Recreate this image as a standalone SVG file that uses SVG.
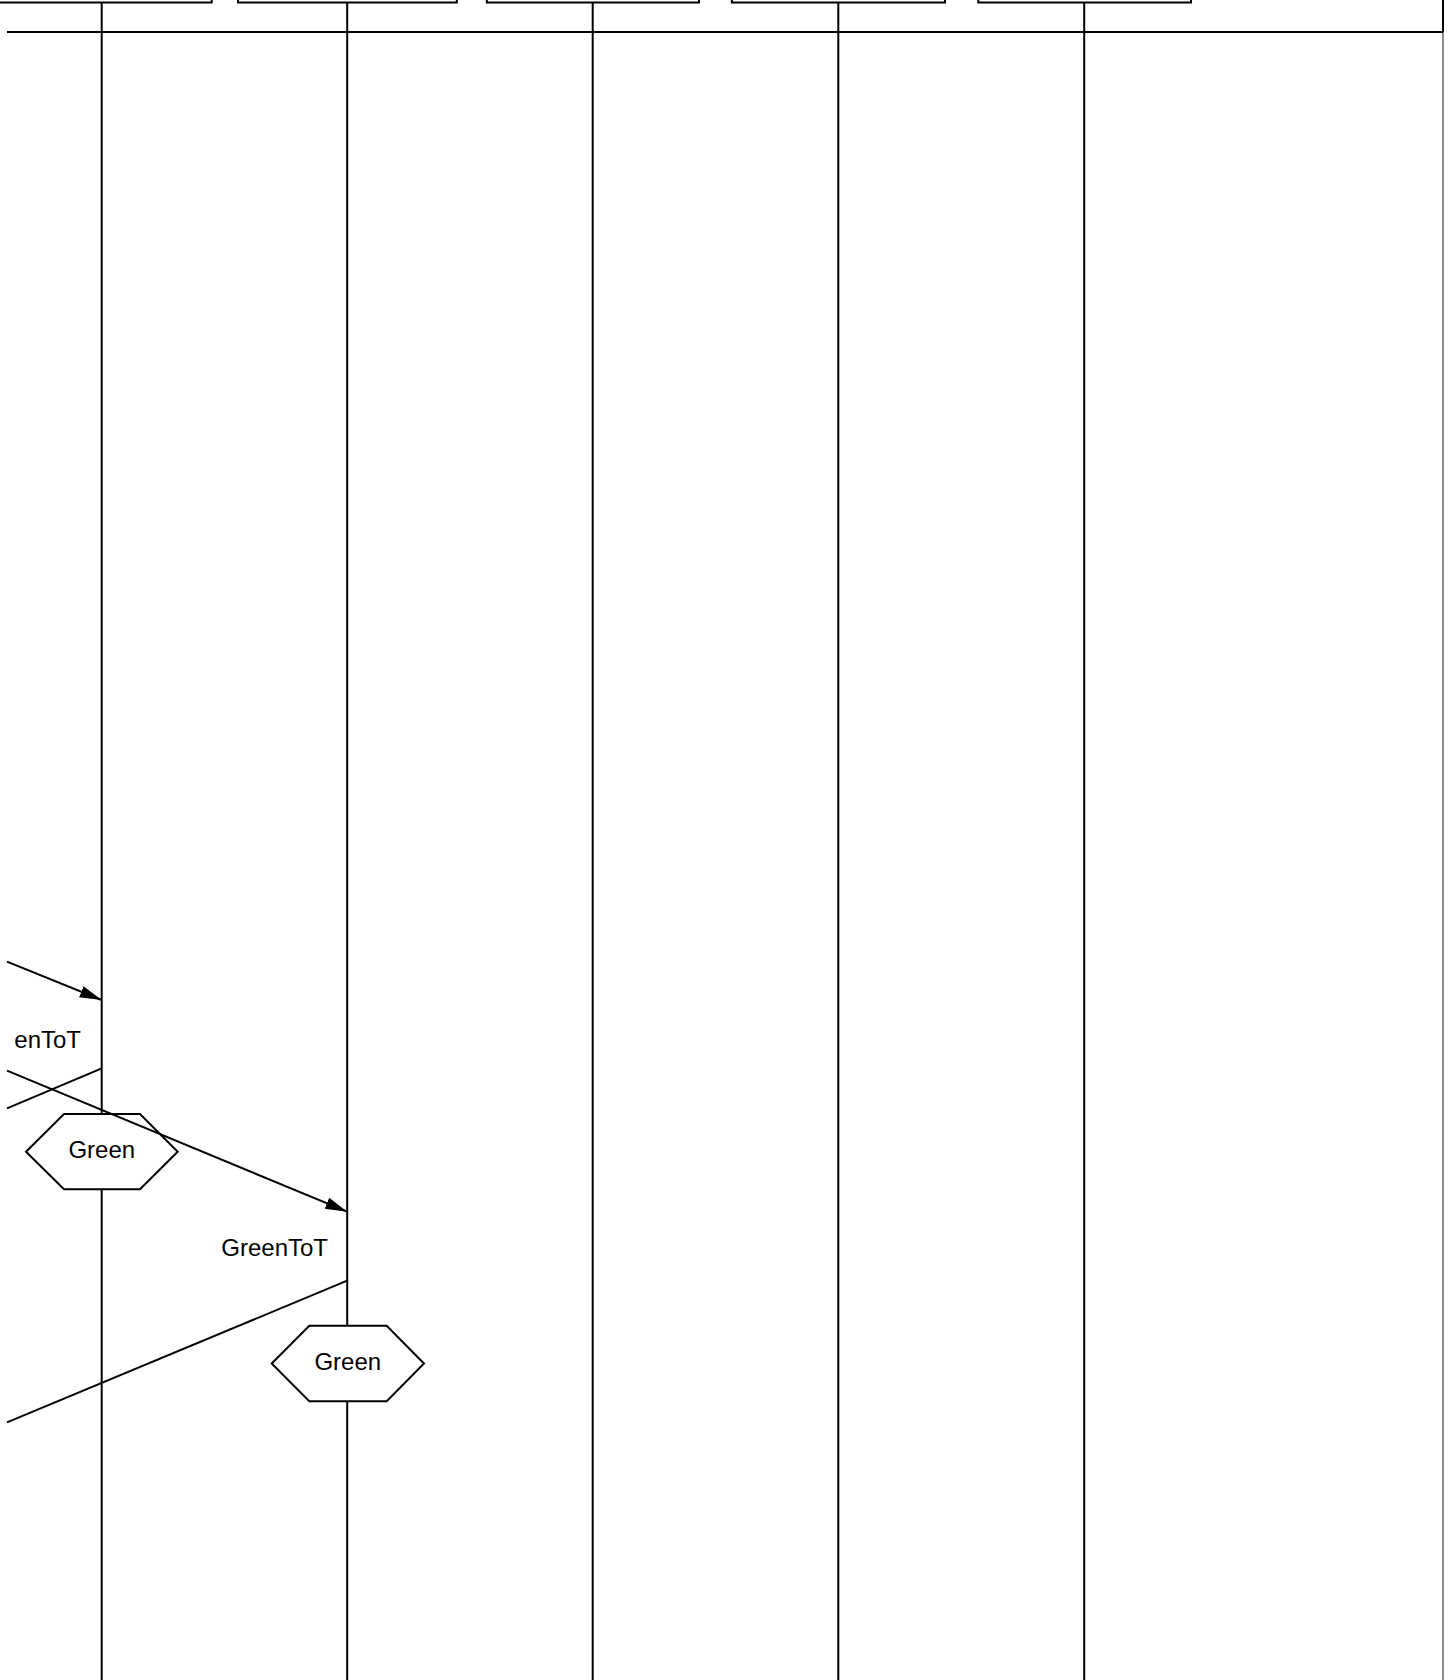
<svg xmlns="http://www.w3.org/2000/svg" width="1450" height="1680" viewBox="0 0 1450 1680">
<style>
.ln{stroke:#000;stroke-width:2;fill:none}
.box{stroke:#000;stroke-width:2;fill:#fff}
.hex{stroke:#000;stroke-width:2;fill:#fff}
.t{font-family:"Liberation Sans",Arial,sans-serif;font-size:24px;fill:#000}
</style>
<defs>
<marker id="ah" markerUnits="userSpaceOnUse" markerWidth="24" markerHeight="14" refX="22" refY="6" orient="auto">
<path d="M0,0 L22,6 L0,12 z" fill="#000"/>
</marker>
</defs>
<rect width="1450" height="1680" fill="#fff"/>
<g id="frame">
<line x1="1443" y1="-5" x2="1443" y2="32" class="ln"/>
<line x1="1443" y1="32" x2="1443" y2="1680" stroke="#666" stroke-width="1.5"/>
<line x1="7" y1="32" x2="1443" y2="32" class="ln"/>
</g>
<g id="lifelines">
<line x1="101.7" y1="0" x2="101.7" y2="1680" class="ln"/>
<line x1="347.2" y1="0" x2="347.2" y2="1680" class="ln"/>
<line x1="592.7" y1="0" x2="592.7" y2="1680" class="ln"/>
<line x1="838.3" y1="0" x2="838.3" y2="1680" class="ln"/>
<line x1="1084.2" y1="0" x2="1084.2" y2="1680" class="ln"/>
</g>
<g id="head1"><rect x="-10" y="-20" width="221.7" height="22.5" class="box"/></g>
<g id="head2"><rect x="238" y="-20" width="218.8" height="22.5" class="box"/></g>
<g id="head3"><rect x="486.8" y="-20" width="212.2" height="22.5" class="box"/></g>
<g id="head4"><rect x="731.9" y="-20" width="213.1" height="22.5" class="box"/></g>
<g id="head5"><rect x="978.3" y="-20" width="212.7" height="22.5" class="box"/></g>
<g id="state1">
<polygon points="26,1151.7 64,1114 140,1114 177.7,1151.7 140,1189.3 64,1189.3" class="hex"/>
<text x="101.8" y="1157.5" text-anchor="middle" class="t">Green</text>
</g>
<g id="state2">
<polygon points="271.7,1363.5 309.3,1325.7 386.7,1325.7 424,1363.5 386.7,1401.3 309.3,1401.3" class="hex"/>
<text x="347.8" y="1369.5" text-anchor="middle" class="t">Green</text>
</g>
<g id="connectors">
<line x1="7" y1="961.6" x2="101.7" y2="1000" class="ln" marker-end="url(#ah)"/>
<text x="81" y="1048.3" text-anchor="end" class="t">enToT</text>
<line x1="101.7" y1="1068.3" x2="7" y2="1108.3" class="ln"/>
<line x1="7" y1="1070.7" x2="347.2" y2="1211.7" class="ln" marker-end="url(#ah)"/>
<text x="328" y="1256" text-anchor="end" class="t">GreenToT</text>
<line x1="347.2" y1="1280.7" x2="7" y2="1422.3" class="ln"/>
</g>
</svg>
